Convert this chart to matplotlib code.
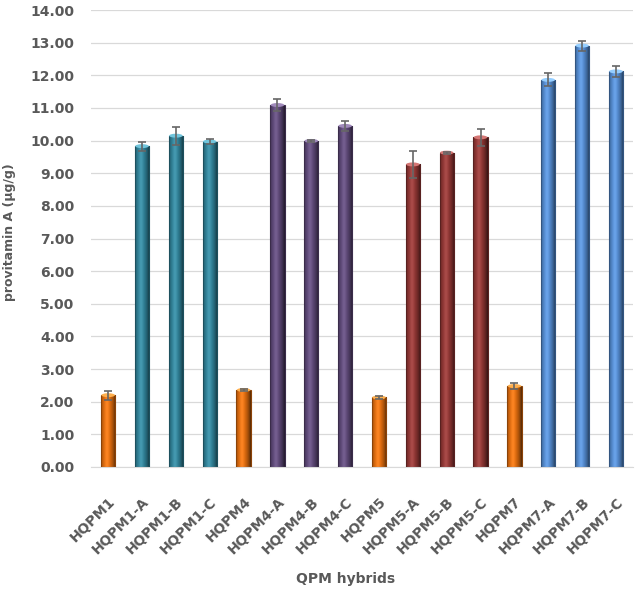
import numpy as np
import matplotlib.pyplot as plt
from matplotlib.colors import to_rgb
from matplotlib.patches import Ellipse

hybrids = ['HQPM1', 'HQPM1-A', 'HQPM1-B', 'HQPM1-C',
           'HQPM4', 'HQPM4-A', 'HQPM4-B', 'HQPM4-C',
           'HQPM5', 'HQPM5-A', 'HQPM5-B', 'HQPM5-C',
           'HQPM7', 'HQPM7-A', 'HQPM7-B', 'HQPM7-C']
provit_a = [2.20, 9.83, 10.15, 9.97,
            2.36, 11.09, 9.99, 10.45,
            2.13, 9.27, 9.63, 10.10,
            2.48, 11.86, 12.91, 12.12]
err = [0.14, 0.14, 0.28, 0.07,
       0.03, 0.18, 0.02, 0.16,
       0.04, 0.41, 0.03, 0.26,
       0.10, 0.20, 0.15, 0.18]
group_colors = ['#E8700E', '#31859C', '#604A7B', '#953735', '#558ED5']
# which colour each bar takes (0 = parent hybrid, orange)
color_idx = [0, 1, 1, 1, 0, 2, 2, 2, 0, 3, 3, 3, 0, 4, 4, 4]

txt = '#595959'
fig = plt.figure(figsize=(6.38, 5.90), dpi=100)
ax = fig.add_axes([0.143, 0.2085, 0.849, 0.7745])

x = np.arange(len(hybrids))
w = 0.42
bars = ax.bar(x, provit_a, width=w, zorder=2)

# fake cylinder shading: horizontal gradient clipped to each bar
prof = np.linspace(-1, 1, 64)
shade = 1 - 0.45 * (prof + 0.2) ** 2
for b, ci in zip(bars, color_idx):
    c = np.array(to_rgb(group_colors[ci]))
    img = np.clip(c[None, :] * shade[:, None] + 0.08 * np.exp(-((prof + 0.2) / 0.3) ** 2)[:, None], 0, 1)
    bx, by = b.get_x(), b.get_y()
    bw, bh = b.get_width(), b.get_height()
    im = ax.imshow(img[None, :, :], extent=[bx, bx + bw, by, by + bh],
                   aspect='auto', zorder=2, interpolation='bilinear')
    im.set_clip_path(b)
    b.set_facecolor('none')
    b.set_edgecolor(tuple(c * 0.6))
    b.set_linewidth(0.8)
    b.set_zorder(3)
    # light top cap
    ax.add_patch(Ellipse((bx + bw / 2, by + bh), bw * 0.95, 0.12,
                         facecolor=tuple(np.clip(c + 0.25, 0, 1)),
                         edgecolor='none', zorder=3))

ax.errorbar(x, provit_a, yerr=err, fmt='none', ecolor='#666666',
            elinewidth=1.2, capsize=3, capthick=1.2, zorder=4)

ax.set_xlim(-0.5, len(hybrids) - 0.5)
ax.set_ylim(0, 14)
ax.set_yticks(np.arange(0, 15, 1))
ax.set_yticklabels([f'{v:.2f}' for v in np.arange(0, 15, 1)],
                   fontsize=10, fontweight='bold', color=txt)
ax.set_xticks(x)
ax.set_xticklabels(hybrids, rotation=45, ha='right', rotation_mode='anchor',
                   fontsize=10, fontweight='bold', color=txt)
ax.tick_params(axis='both', length=0)
ax.tick_params(axis='y', pad=12)
ax.tick_params(axis='x', pad=20)
ax.yaxis.grid(True, color='#D9D9D9', linewidth=0.9, zorder=0)
ax.set_axisbelow(True)
for s in ['top', 'right', 'left']:
    ax.spines[s].set_visible(False)
ax.spines['bottom'].set_color('#D9D9D9')

ax.set_ylabel('provitamin A (µg/g)', fontsize=9, fontweight='bold', color=txt)
ax.yaxis.set_label_coords(-0.138, 0.515)
fig.text(0.541, 0.012, 'QPM hybrids', fontsize=10, fontweight='bold', color=txt, ha='center')

fig.savefig('out.png', dpi=100)
